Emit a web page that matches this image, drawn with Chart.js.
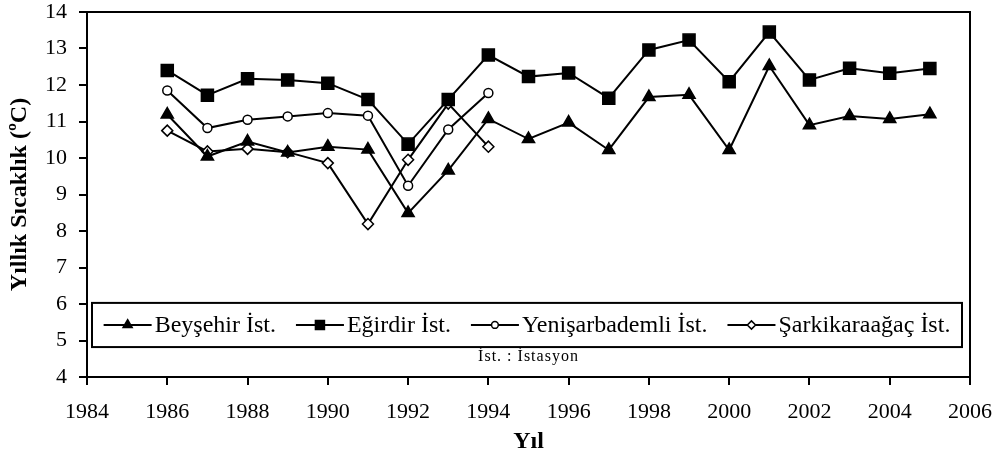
<!DOCTYPE html>
<html>

<head>
    <title>Yıllık Sıcaklık</title>
    <meta charset="UTF-8">
    <script src="https://cdn.jsdelivr.net/npm/chart.js@4.4.1/dist/chart.umd.min.js"></script>
    <style>
        html, body { margin: 0; padding: 0; background: #fff; }
        #wrap { width: 996px; height: 457px; }
    </style>
</head>

<body>
    <div id="wrap"><canvas id="tempChart" width="996" height="457"></canvas></div>
    <script>
        const years = [1986, 1987, 1988, 1989, 1990, 1991, 1992, 1993, 1994, 1995,
            1996, 1997, 1998, 1999, 2000, 2001, 2002, 2003, 2004, 2005];
        const beysehir = [11.19, 10.04, 10.45, 10.15, 10.31, 10.23, 8.49, 9.66, 11.07, 10.52,
            10.97, 10.22, 11.67, 11.73, 10.22, 12.52, 10.9, 11.15, 11.07, 11.2];
        const egirdir = [12.4, 11.72, 12.17, 12.14, 12.05, 11.6, 10.38, 11.6, 12.82, 12.23,
            12.33, 11.64, 12.96, 13.23, 12.09, 13.45, 12.14, 12.46, 12.32, 12.45];
        const yenisarbademli = [11.85, 10.82, 11.05, 11.14, 11.23, 11.16, 9.24, 10.78, 11.78];
        const sarkikaraagac = [10.75, 10.18, 10.25, 10.16, 9.86, 8.19, 9.95, 11.49, 10.31];
        const seriesNames = ['Beyşehir İst.', 'Eğirdir İst.', 'Yenişarbademli İst.', 'Şarkikaraağaç İst.'];
        const noteText = 'İst. : İstasyon';

        const serif = "'Liberation Serif', 'DejaVu Serif', serif";

        function toPoints(vals) {
            return vals.map((v, i) => ({ x: years[i], y: v }));
        }

        function series(label, vals, style, radius, fill) {
            return {
                label: label,
                data: toPoints(vals),
                borderColor: '#000',
                borderWidth: 2,
                pointStyle: style,
                pointRadius: radius,
                pointHoverRadius: radius,
                pointBackgroundColor: fill,
                pointBorderColor: '#000',
                pointBorderWidth: 1.5,
                tension: 0
            };
        }

        // box legend + note drawn inside the plot area
        const boxLegend = {
            id: 'boxLegend',
            afterDraw(chart) {
                const ctx = chart.ctx;
                const area = chart.chartArea;
                const y = chart.scales.y;
                ctx.save();
                // top / right frame
                ctx.strokeStyle = '#000';
                ctx.lineWidth = 2;
                ctx.beginPath();
                ctx.moveTo(area.left, area.top);
                ctx.lineTo(area.right, area.top);
                ctx.lineTo(area.right, area.bottom);
                ctx.stroke();

                const top = y.getPixelForValue(6.03);
                const bottom = y.getPixelForValue(4.82);
                const left = area.left + 5;
                const right = area.right - 8;
                ctx.strokeRect(left, top, right - left, bottom - top);

                ctx.font = '24px ' + serif;
                const sample = 48, gapIn = 3, gapOut = 20;
                const n = chart.data.datasets.length;
                const widths = chart.data.datasets.map(ds => ctx.measureText(ds.label).width);
                const total = widths.reduce((a, b) => a + b, 0) + n * (sample + gapIn) + (n - 1) * gapOut;
                let x = (left + right) / 2 - total / 2;
                const cy = (top + bottom) / 2;
                chart.data.datasets.forEach((ds, i) => {
                    ctx.strokeStyle = '#000';
                    ctx.lineWidth = 2;
                    ctx.beginPath();
                    ctx.moveTo(x, cy);
                    ctx.lineTo(x + sample, cy);
                    ctx.stroke();
                    ctx.fillStyle = ds.pointBackgroundColor;
                    ctx.lineWidth = 1.5;
                    Chart.helpers.drawPoint(ctx, {
                        pointStyle: ds.pointStyle,
                        radius: ds.pointRadius * 0.75,
                        borderWidth: 1.5,
                        rotation: 0
                    }, x + sample / 2, cy);
                    ctx.fillStyle = '#000';
                    ctx.textAlign = 'left';
                    ctx.textBaseline = 'middle';
                    ctx.fillText(ds.label, x + sample + gapIn, cy + 1);
                    x += sample + gapIn + widths[i] + gapOut;
                });

                ctx.font = '16px ' + serif;
                ctx.letterSpacing = '1px';
                ctx.textAlign = 'center';
                ctx.fillText(noteText, (area.left + area.right) / 2, y.getPixelForValue(4.55));
                ctx.restore();
            }
        };

        const ctx = document.getElementById('tempChart');
        const tempChart = new Chart(ctx, {
            type: 'line',
            data: {
                datasets: [
                    series(seriesNames[0], beysehir, 'triangle', 7, '#000'),
                    series(seriesNames[1], egirdir, 'rect', 8.5, '#000'),
                    series(seriesNames[2], yenisarbademli, 'circle', 4.5, '#fff'),
                    series(seriesNames[3], sarkikaraagac, 'rectRot', 5.5, '#fff')
                ]
            },
            options: {
                responsive: false,
                animation: false,
                layout: { padding: { top: 12, right: 26, left: 0, bottom: 0 } },
                plugins: {
                    legend: { display: false },
                    tooltip: { enabled: false }
                },
                scales: {
                    x: {
                        type: 'linear',
                        min: 1984,
                        max: 2006,
                        afterFit: s => {
                            s.height = 80;
                            s.paddingLeft = 0;
                            s.paddingRight = 0;
                        },
                        ticks: {
                            stepSize: 2,
                            color: '#000',
                            padding: 14,
                            maxRotation: 0,
                            font: { family: serif, size: 22 },
                            callback: v => String(v)
                        },
                        grid: { drawOnChartArea: false, drawTicks: true, tickLength: 8, color: '#000', lineWidth: 2 },
                        border: { display: true, color: '#000', width: 2 },
                        title: {
                            display: true,
                            text: 'Yıl',
                            color: '#000',
                            font: { family: serif, size: 24, weight: 'bold' },
                            padding: { top: 0, bottom: 1 }
                        }
                    },
                    y: {
                        min: 4,
                        max: 14,
                        afterFit: s => {
                            s.width = 87;
                            s.paddingTop = 0;
                            s.paddingBottom = 0;
                        },
                        ticks: {
                            stepSize: 1,
                            color: '#000',
                            padding: 12,
                            font: { family: serif, size: 22 }
                        },
                        grid: { drawOnChartArea: false, drawTicks: true, tickLength: 8, color: '#000', lineWidth: 2 },
                        border: { display: true, color: '#000', width: 2 },
                        title: {
                            display: true,
                            text: 'Yıllık Sıcaklık (ºC)',
                            color: '#000',
                            font: { family: serif, size: 24, weight: 'bold' },
                            padding: { top: 5, bottom: 0 }
                        }
                    }
                }
            },
            plugins: [boxLegend]
        });
    </script>

</body>

</html>
